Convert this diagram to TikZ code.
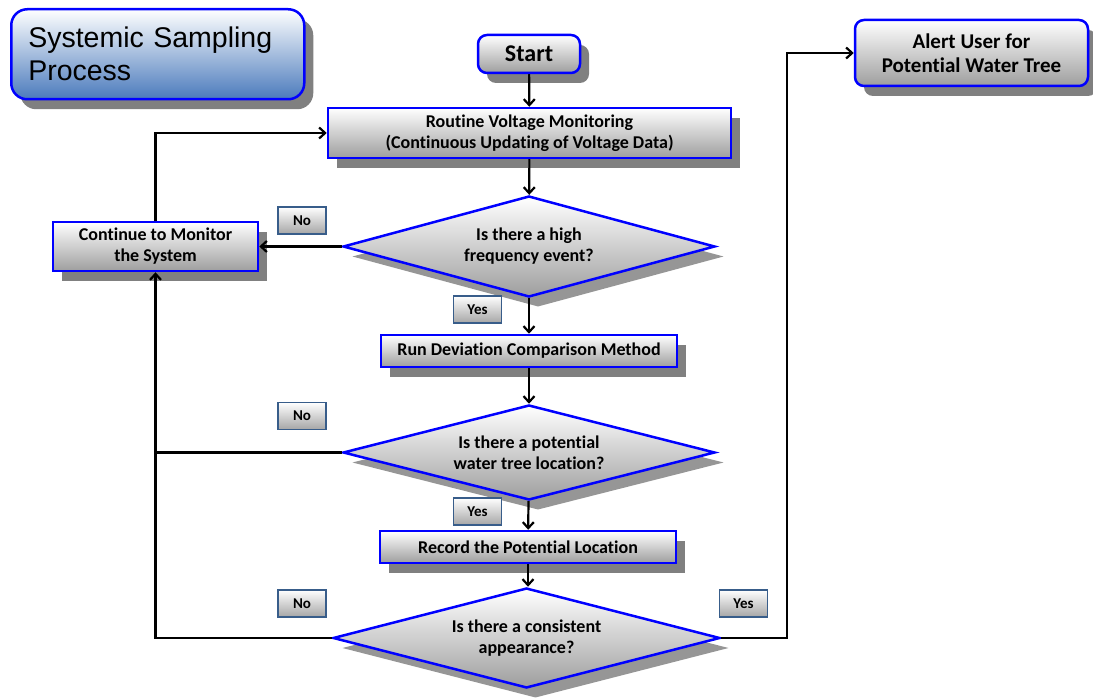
\documentclass[tikz,border=0pt]{standalone}
\usepackage{fontspec}
\setmainfont{Carlito}[Ligatures=NoCommon]
\newfontfamily\titlefont{Liberation Sans}
\usetikzlibrary{shapes.geometric,shadows,arrows.meta}

\definecolor{edgeblue}{RGB}{0,0,255}
\definecolor{tagedge}{RGB}{56,93,138}
\definecolor{titlebottom}{RGB}{74,122,188}
\definecolor{shadowgray}{RGB}{128,128,128}
\definecolor{dshadowgray}{RGB}{150,150,150}

\tikzset{
  boxbase/.style={draw=edgeblue, line width=2.5pt, top color=white, bottom color=black!38,
    align=center, inner sep=0pt, font=\fontsize{18}{21}\selectfont\bfseries},
  procbox/.style={boxbase, rectangle,
    drop shadow={shadow xshift=9pt, shadow yshift=-10pt, fill=shadowgray, opacity=1}},
  termbox/.style={procbox, rounded corners=9pt},
  decision/.style={boxbase, diamond,
    drop shadow={shadow xshift=9pt, shadow yshift=-10pt, fill=dshadowgray, opacity=1}},
  tag/.style={rectangle, draw=tagedge, line width=1.8pt, top color=white, bottom color=black!35,
    minimum width=48pt, minimum height=27pt, inner sep=0pt,
    font=\fontsize{15}{17}\selectfont\bfseries},
  flow/.style={line width=2.2pt, -{Straight Barb[length=6pt,width=11pt,line width=2.2pt]}},
  plain/.style={line width=2.2pt}
}

\begin{document}
\begin{tikzpicture}[x=1pt, y=-1pt]
  \useasboundingbox (0,0) rectangle (1093,700);

  % heading box
  \node[draw=edgeblue, line width=2.5pt, rounded corners=16pt, top color=white,
        bottom color=titlebottom, anchor=north west, minimum width=293pt,
        minimum height=90pt, text width=259pt, inner xsep=17pt, inner ysep=0pt, align=left,
        font=\titlefont\fontsize{28.5}{33}\selectfont,
        drop shadow={shadow xshift=9pt, shadow yshift=-10pt, fill=shadowgray, opacity=1}]
        (title) at (10,8) {Systemic Sampling\\Process};

  % main column
  \node[termbox, minimum width=102pt, minimum height=38pt, font=\fontsize{24}{26}\selectfont\bfseries]
        (start) at (529,54) {Start};
  \node[procbox, minimum width=403pt, minimum height=50pt]
        (routine) at (529.5,133) {Routine Voltage Monitoring\\(Continuous Updating of Voltage Data)};
  \node[decision, aspect=3.68, minimum width=372pt, minimum height=101pt]
        (d1) at (529,246.5) {Is there a high\\frequency event?};
  \node[procbox, minimum width=296pt, minimum height=32pt]
        (run) at (529,351) {Run Deviation Comparison Method};
  \node[decision, aspect=3.92, minimum width=372pt, minimum height=95pt]
        (d2) at (529,452.5) {Is there a potential\\water tree location?};
  \node[procbox, minimum width=296pt, minimum height=32pt]
        (record) at (528,547) {Record the Potential Location};
  \node[decision, aspect=3.87, minimum width=387pt, minimum height=100pt]
        (d3) at (526.5,638) {Is there a consistent\\appearance?};

  % side boxes
  \node[procbox, minimum width=205pt, minimum height=49pt]
        (cont) at (155.5,246.5) {Continue to Monitor\\the System};
  \node[termbox, minimum width=233pt, minimum height=66pt, font=\fontsize{21}{24}\selectfont\bfseries]
        (alert) at (971.5,53) {Alert User for\\Potential Water Tree};

  % answer tags
  \node[tag] (no1)  at (302,220.5) {No};
  \node[tag] (yes1) at (477.5,309.5) {Yes};
  \node[tag] (no2)  at (302,416) {No};
  \node[tag] (yes2) at (477.5,511.5) {Yes};
  \node[tag] (no3)  at (302,603.5) {No};
  \node[tag] (yes3) at (743.5,603.5) {Yes};

  % connectors
  \coordinate (turn) at (787,638);
  \draw[flow] (start) -- (routine);
  \draw[flow] (routine) -- (d1);
  \draw[flow] (d1) -- (run);
  \draw[flow] (run) -- (d2);
  \draw[flow] (d2) -- (record);
  \draw[flow] (record.south) -- (record.south |- d3.north);
  \draw[flow] (d1.west) -- (cont.east);
  \draw[plain] (d2.west) -- (d2.west -| cont.south);
  \draw[flow] (d3.west) -| (cont.south);
  \draw[flow] (cont.north) |- (routine.west);
  \draw[flow] (d3.east) -- (turn) |- (alert.west);
\end{tikzpicture}
\end{document}
